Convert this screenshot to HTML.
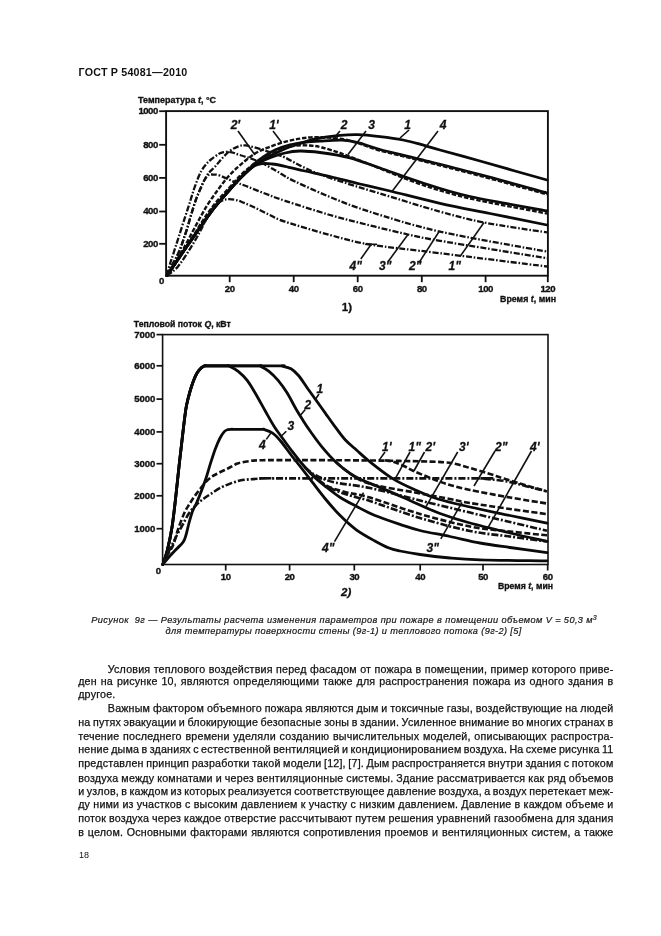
<!DOCTYPE html>
<html lang="ru"><head><meta charset="utf-8"><title>ГОСТ Р 54081—2010</title>
<style>
html,body{margin:0;padding:0;background:#fff;}
body{width:661px;height:936px;position:relative;overflow:hidden;font-family:"Liberation Sans","DejaVu Sans",sans-serif;color:#1a1a1a;}
.hdr{position:absolute;left:78.6px;top:65.8px;font-weight:bold;font-size:10.7px;letter-spacing:0.2px;white-space:nowrap;color:#111;line-height:13px;}
.ln{position:absolute;font-size:10.7px;letter-spacing:0.2px;line-height:12px;height:12px;white-space:pre;color:#111;-webkit-text-stroke:0.25px #111;}
.cap{position:absolute;font-style:italic;font-size:9.2px;white-space:pre;color:#151515;-webkit-text-stroke:0.2px #151515;line-height:11px;}
.pg{position:absolute;left:79px;top:849.5px;font-size:9px;color:#111;line-height:11px;}
svg{position:absolute;left:0;top:0;}
.tk{font-family:"Liberation Sans",sans-serif;font-weight:bold;font-size:9.6px;letter-spacing:-0.5px;fill:#111;stroke:#111;stroke-width:0.35px;}
.tk2{letter-spacing:-0.05px;}
.ttl{font-family:"Liberation Sans",sans-serif;font-weight:bold;font-size:8.4px;fill:#111;stroke:#111;stroke-width:0.3px;}
.ttl2{font-family:"Liberation Sans",sans-serif;font-weight:bold;font-size:8.2px;fill:#111;stroke:#111;stroke-width:0.3px;}
.lab2{font-family:"Liberation Sans",sans-serif;font-weight:bold;font-style:italic;font-size:11.5px;fill:#111;stroke:#111;stroke-width:0.3px;}
.lab1{font-family:"Liberation Sans",sans-serif;font-weight:bold;font-size:11.5px;fill:#111;stroke:#111;stroke-width:0.3px;}
.cl{font-family:"Liberation Sans",sans-serif;font-weight:bold;font-style:italic;font-size:12px;fill:#111;stroke:#111;stroke-width:0.3px;}
</style></head><body>
<div class="hdr">ГОСТ Р 54081—2010</div>
<svg width="661" height="936" viewBox="0 0 661 936">
<rect x="166.1" y="111.1" width="381.8" height="164.6" stroke="#111" fill="none" stroke-width="1.9"/>
<line x1="159.2" y1="111.2" x2="166" y2="111.2" stroke="#111" fill="none" stroke-width="1.8"/>
<text x="157.8" y="114.1" class="tk" text-anchor="end">1000</text>
<line x1="159.2" y1="144.8" x2="166" y2="144.8" stroke="#111" fill="none" stroke-width="1.8"/>
<text x="157.8" y="147.7" class="tk" text-anchor="end">800</text>
<line x1="159.2" y1="177.9" x2="166" y2="177.9" stroke="#111" fill="none" stroke-width="1.8"/>
<text x="157.8" y="180.8" class="tk" text-anchor="end">600</text>
<line x1="159.2" y1="211.5" x2="166" y2="211.5" stroke="#111" fill="none" stroke-width="1.8"/>
<text x="157.8" y="214.4" class="tk" text-anchor="end">400</text>
<line x1="159.2" y1="243.8" x2="166" y2="243.8" stroke="#111" fill="none" stroke-width="1.8"/>
<text x="157.8" y="246.7" class="tk" text-anchor="end">200</text>
<text x="161.5" y="283.6" class="tk" text-anchor="middle">0</text>
<line x1="229.7" y1="275.7" x2="229.7" y2="282.2" stroke="#111" fill="none" stroke-width="1.8"/>
<text x="229.7" y="291.9" class="tk" text-anchor="middle">20</text>
<line x1="293.7" y1="275.7" x2="293.7" y2="282.2" stroke="#111" fill="none" stroke-width="1.8"/>
<text x="293.7" y="291.9" class="tk" text-anchor="middle">40</text>
<line x1="357.7" y1="275.7" x2="357.7" y2="282.2" stroke="#111" fill="none" stroke-width="1.8"/>
<text x="357.7" y="291.9" class="tk" text-anchor="middle">60</text>
<line x1="421.8" y1="275.7" x2="421.8" y2="282.2" stroke="#111" fill="none" stroke-width="1.8"/>
<text x="421.8" y="291.9" class="tk" text-anchor="middle">80</text>
<line x1="485.6" y1="275.7" x2="485.6" y2="282.2" stroke="#111" fill="none" stroke-width="1.8"/>
<text x="485.6" y="291.9" class="tk" text-anchor="middle">100</text>
<line x1="547.8" y1="275.7" x2="547.8" y2="282.2" stroke="#111" fill="none" stroke-width="1.8"/>
<text x="547.8" y="291.9" class="tk" text-anchor="middle">120</text>
<text x="138" y="102.6" class="ttl" textLength="78" lengthAdjust="spacingAndGlyphs">Температура <tspan font-style="italic">t</tspan>, °C</text>
<text x="500" y="301.9" class="ttl2" textLength="56" lengthAdjust="spacingAndGlyphs">Время <tspan font-style="italic">t</tspan>, мин</text>
<text x="341.8" y="311.4" class="lab1">1)</text>
<path d="M167.0,275.6 C169.8,271.4 178.2,258.9 184.0,250.5 C189.8,242.2 196.4,232.7 201.5,225.5 C206.6,218.3 210.4,212.8 214.5,207.5 C218.6,202.2 222.7,197.7 226.3,193.6 C229.9,189.5 232.7,186.1 235.9,182.7 C239.1,179.3 242.2,176.1 245.4,173.1 C248.6,170.1 251.6,167.3 255.0,164.8 C258.4,162.3 262.2,160.1 266.0,158.0 C269.8,155.9 274.0,153.9 278.0,152.0 C282.0,150.1 285.5,148.5 290.0,146.8 C294.5,145.1 300.0,143.3 305.0,141.8 C310.0,140.3 314.2,139.1 320.0,138.0 C325.8,136.9 333.7,135.9 340.0,135.3 C346.3,134.7 351.3,134.4 358.0,134.6 C364.7,134.8 372.5,135.7 380.0,136.6 C387.5,137.5 396.3,138.7 403.0,140.0 C409.7,141.3 413.8,142.5 420.0,144.2 C426.2,145.9 430.0,147.2 440.0,150.0 C450.0,152.8 467.5,157.5 480.0,161.0 C492.5,164.5 503.8,167.8 515.0,171.0 C526.2,174.2 541.7,178.5 547.0,180.0" stroke="#0a0a0a" stroke-width="2.8" fill="none" stroke-linejoin="round" stroke-linecap="round"/>
<path d="M167.0,275.6 C169.8,271.4 178.2,258.9 184.0,250.5 C189.8,242.2 196.4,232.7 201.5,225.5 C206.6,218.3 210.4,212.8 214.5,207.5 C218.6,202.2 222.7,197.7 226.3,193.6 C229.9,189.5 232.7,186.1 235.9,182.7 C239.1,179.3 242.4,176.2 245.4,173.1 C248.4,170.0 250.9,167.0 254.0,164.2 C257.1,161.4 260.5,158.9 264.0,156.5 C267.5,154.1 270.7,151.9 275.0,150.0 C279.3,148.1 285.0,146.1 290.0,144.8 C295.0,143.5 300.0,142.9 305.0,142.3 C310.0,141.7 313.8,141.5 320.0,141.2 C326.2,140.8 335.7,139.9 342.0,140.2 C348.3,140.4 351.7,141.1 358.0,142.7 C364.3,144.2 369.7,146.7 380.0,149.5 C390.3,152.3 403.3,155.1 420.0,159.3 C436.7,163.5 458.8,168.9 480.0,174.5 C501.2,180.1 535.8,189.9 547.0,193.0" stroke="#0a0a0a" stroke-width="2.8" fill="none" stroke-linejoin="round" stroke-linecap="round"/>
<path d="M167.0,275.6 C169.7,271.2 177.7,258.9 183.0,249.5 C188.3,240.2 194.8,227.2 199.1,219.5 C203.4,211.8 205.4,208.1 208.6,203.1 C211.8,198.1 215.0,193.8 218.2,189.5 C221.4,185.2 224.5,180.8 227.7,177.2 C230.9,173.6 234.0,170.6 237.2,167.7 C240.4,164.8 243.6,162.0 246.8,159.5 C250.0,157.0 252.7,154.7 256.3,152.7 C259.9,150.7 263.8,149.1 268.6,147.3 C273.4,145.5 279.8,143.2 285.0,141.8 C290.2,140.4 295.3,139.4 300.0,138.6 C304.7,137.8 308.3,137.4 313.0,137.2 C317.7,137.0 322.7,137.2 328.0,137.6 C333.3,138.0 340.0,138.7 345.0,139.6 C350.0,140.5 352.2,141.4 358.0,143.2 C363.8,145.0 369.7,147.6 380.0,150.5 C390.3,153.4 403.3,156.2 420.0,160.4 C436.7,164.6 458.8,170.1 480.0,175.8 C501.2,181.5 535.8,191.3 547.0,194.4" stroke="#111" stroke-width="2.4" fill="none" stroke-dasharray="4.5 1.8"/>
<path d="M167.0,275.6 C169.8,271.4 178.2,258.9 184.0,250.5 C189.8,242.2 196.4,232.7 201.5,225.5 C206.6,218.3 210.4,212.8 214.5,207.5 C218.6,202.2 222.7,197.7 226.3,193.6 C229.9,189.5 232.7,186.1 235.9,182.7 C239.1,179.3 242.2,176.0 245.4,173.1 C248.6,170.2 251.6,167.5 255.0,165.2 C258.4,162.9 260.8,161.5 265.8,159.5 C270.8,157.5 279.3,154.4 285.0,153.0 C290.7,151.6 294.2,151.1 300.0,151.0 C305.8,150.9 311.7,151.4 320.0,152.5 C328.3,153.6 340.0,155.2 350.0,157.8 C360.0,160.4 368.3,164.0 380.0,168.0 C391.7,172.0 405.3,177.3 420.0,182.0 C434.7,186.7 446.8,191.2 468.0,196.0 C489.2,200.8 533.8,208.5 547.0,211.0" stroke="#0a0a0a" stroke-width="2.8" fill="none" stroke-linejoin="round" stroke-linecap="round"/>
<path d="M167.0,275.6 C169.8,271.5 178.2,259.9 184.0,251.0 C189.8,242.1 196.6,230.2 201.8,222.2 C207.0,214.2 210.9,208.8 215.4,203.1 C219.9,197.4 224.9,192.6 229.0,188.1 C233.1,183.6 236.3,179.5 239.9,175.9 C243.5,172.3 247.4,169.0 250.8,166.3 C254.2,163.6 256.8,161.7 260.3,159.5 C263.8,157.3 267.9,154.9 272.0,153.0 C276.1,151.1 280.8,149.2 285.0,148.0 C289.2,146.8 292.8,145.9 297.0,145.5 C301.2,145.1 305.8,145.2 310.0,145.5 C314.2,145.8 317.0,146.2 322.0,147.5 C327.0,148.8 333.7,150.8 340.0,153.0 C346.3,155.2 353.3,157.9 360.0,160.5 C366.7,163.1 370.0,164.6 380.0,168.5 C390.0,172.4 405.3,179.1 420.0,184.0 C434.7,188.9 446.8,193.1 468.0,198.0 C489.2,202.9 533.8,210.9 547.0,213.5" stroke="#111" stroke-width="2.4" fill="none" stroke-dasharray="4.5 1.8"/>
<path d="M167.0,275.6 C169.8,271.4 178.2,258.9 184.0,250.5 C189.8,242.2 196.4,232.7 201.5,225.5 C206.6,218.3 210.4,212.8 214.5,207.5 C218.6,202.2 222.7,197.7 226.3,193.6 C229.9,189.5 232.7,186.1 235.9,182.7 C239.1,179.3 242.2,175.9 245.4,173.1 C248.6,170.2 252.0,167.2 254.9,165.6 C257.8,164.0 260.1,163.9 263.0,163.6 C265.9,163.3 268.3,163.6 272.0,164.0 C275.7,164.4 279.5,165.1 285.0,166.3 C290.5,167.5 297.5,169.3 305.0,171.0 C312.5,172.7 320.8,174.3 330.0,176.5 C339.2,178.7 350.0,181.6 360.0,184.0 C370.0,186.4 376.7,187.8 390.0,191.0 C403.3,194.2 423.3,199.6 440.0,203.3 C456.7,207.1 472.2,209.9 490.0,213.5 C507.8,217.1 537.5,223.1 547.0,225.0" stroke="#0a0a0a" stroke-width="2.8" fill="none" stroke-linejoin="round" stroke-linecap="round"/>
<path d="M167.0,275.6 C167.7,274.2 169.6,269.8 171.0,267.0 C172.4,264.2 174.0,261.8 175.5,259.0 C177.0,256.2 178.4,253.4 179.8,250.0 C181.2,246.6 182.5,242.3 183.8,238.5 C185.1,234.7 186.4,231.0 187.6,227.0 C188.8,223.0 189.8,219.0 191.2,214.5 C192.6,210.0 194.3,204.3 195.8,200.0 C197.3,195.7 199.0,192.1 200.4,188.8 C201.8,185.5 203.1,182.6 204.5,180.0 C205.9,177.4 206.8,175.4 208.6,173.1 C210.4,170.8 213.1,168.8 215.4,166.3 C217.7,163.8 219.7,160.8 222.2,158.2 C224.7,155.6 227.7,152.5 230.4,150.5 C233.1,148.5 236.1,147.2 238.6,146.3 C241.1,145.5 242.4,145.1 245.4,145.4 C248.4,145.7 252.7,146.9 256.3,147.9 C259.9,148.9 263.8,150.2 267.2,151.3 C270.6,152.4 273.7,153.7 276.7,154.7 C279.7,155.7 280.3,155.3 285.0,157.5 C289.7,159.7 297.5,164.6 305.0,168.0 C312.5,171.4 317.5,173.8 330.0,178.0 C342.5,182.2 361.7,187.9 380.0,193.5 C398.3,199.1 422.7,206.8 440.0,211.6 C457.3,216.4 466.2,219.0 484.0,222.5 C501.8,226.0 536.5,230.8 547.0,232.4" stroke="#111" stroke-width="2.3" fill="none" stroke-dasharray="6 1.8 1.6 1.8"/>
<path d="M167.0,275.6 C167.5,273.7 168.8,267.9 170.0,264.0 C171.2,260.1 172.5,256.5 173.9,252.0 C175.3,247.5 176.8,243.0 178.7,237.0 C180.6,231.0 183.4,222.2 185.4,216.0 C187.4,209.8 189.2,204.5 190.6,200.0 C192.0,195.5 192.8,192.4 194.0,189.0 C195.2,185.6 196.3,182.5 197.5,179.5 C198.7,176.5 200.0,173.4 201.3,171.0 C202.6,168.6 204.0,166.8 205.5,165.0 C207.0,163.2 208.1,161.9 210.4,160.0 C212.7,158.1 216.8,155.0 219.5,153.6 C222.2,152.2 224.6,152.0 226.7,151.8 C228.8,151.6 230.2,151.9 232.0,152.3 C233.8,152.7 235.2,153.5 237.6,154.3 C240.0,155.1 243.1,155.9 246.7,157.2 C250.3,158.4 254.9,159.8 259.4,161.8 C263.9,163.9 269.6,167.1 273.9,169.5 C278.2,171.9 281.5,174.2 285.0,176.2 C288.5,178.2 287.5,178.0 295.0,181.5 C302.5,185.0 317.5,191.9 330.0,197.0 C342.5,202.1 351.7,206.0 370.0,211.8 C388.3,217.6 410.5,225.0 440.0,231.6 C469.5,238.2 529.2,248.3 547.0,251.6" stroke="#111" stroke-width="2.3" fill="none" stroke-dasharray="6 1.8 1.6 1.8"/>
<path d="M167.0,275.6 C167.7,274.2 169.6,269.8 171.0,267.0 C172.4,264.2 174.0,261.8 175.5,259.0 C177.0,256.2 178.4,253.4 179.8,250.0 C181.2,246.6 182.5,242.3 183.8,238.5 C185.1,234.7 186.4,231.0 187.6,227.0 C188.8,223.0 189.8,219.0 191.2,214.5 C192.6,210.0 194.3,204.3 195.8,200.0 C197.3,195.7 199.0,192.1 200.4,188.8 C201.8,185.5 203.1,182.3 204.5,180.0 C205.9,177.7 207.2,175.9 208.6,175.0 C210.0,174.1 211.2,174.5 213.0,174.6 C214.8,174.7 216.0,174.2 219.5,175.4 C223.0,176.6 229.5,179.9 234.0,181.7 C238.5,183.5 241.5,184.3 246.7,186.3 C251.8,188.3 258.5,191.1 264.9,193.5 C271.3,195.9 274.1,197.2 285.0,200.8 C295.9,204.4 315.8,210.9 330.0,215.0 C344.2,219.1 357.0,222.2 370.0,225.4 C383.0,228.7 396.3,231.9 408.0,234.5 C419.7,237.1 416.8,236.9 440.0,240.8 C463.2,244.8 529.2,255.3 547.0,258.2" stroke="#111" stroke-width="2.3" fill="none" stroke-dasharray="6 1.8 1.6 1.8"/>
<path d="M167.0,275.6 C168.8,274.1 173.9,271.3 177.8,266.7 C181.7,262.1 186.8,254.0 190.6,247.9 C194.4,241.8 197.7,235.9 200.9,229.9 C204.1,223.9 207.2,216.5 210.0,212.0 C212.8,207.5 215.7,205.0 218.0,203.0 C220.3,201.0 222.2,200.4 224.0,199.8 C225.8,199.2 227.2,199.2 229.0,199.2 C230.8,199.2 232.9,199.4 235.0,199.8 C237.1,200.2 237.8,200.3 241.3,201.7 C244.8,203.1 251.0,205.8 255.8,208.1 C260.6,210.4 265.4,213.0 270.3,215.3 C275.2,217.6 275.1,218.4 285.0,221.7 C294.9,225.0 315.8,231.2 330.0,235.0 C344.2,238.8 351.7,241.5 370.0,244.5 C388.3,247.5 410.5,249.5 440.0,253.2 C469.5,256.9 529.2,264.3 547.0,266.5" stroke="#111" stroke-width="2.3" fill="none" stroke-dasharray="6 1.8 1.6 1.8"/>
<rect x="162.6" y="334.6" width="385.4" height="229.9" stroke="#111" fill="none" stroke-width="1.6"/>
<line x1="156.5" y1="334.6" x2="162.6" y2="334.6" stroke="#111" fill="none" stroke-width="1.7"/>
<text x="155.3" y="337.9" class="tk tk2" text-anchor="end">7000</text>
<line x1="156.5" y1="365.8" x2="162.6" y2="365.8" stroke="#111" fill="none" stroke-width="1.7"/>
<text x="155.3" y="369.1" class="tk tk2" text-anchor="end">6000</text>
<line x1="156.5" y1="399.1" x2="162.6" y2="399.1" stroke="#111" fill="none" stroke-width="1.7"/>
<text x="155.3" y="402.4" class="tk tk2" text-anchor="end">5000</text>
<line x1="156.5" y1="431.9" x2="162.6" y2="431.9" stroke="#111" fill="none" stroke-width="1.7"/>
<text x="155.3" y="435.2" class="tk tk2" text-anchor="end">4000</text>
<line x1="156.5" y1="463.7" x2="162.6" y2="463.7" stroke="#111" fill="none" stroke-width="1.7"/>
<text x="155.3" y="467.0" class="tk tk2" text-anchor="end">3000</text>
<line x1="156.5" y1="495.8" x2="162.6" y2="495.8" stroke="#111" fill="none" stroke-width="1.7"/>
<text x="155.3" y="499.1" class="tk tk2" text-anchor="end">2000</text>
<line x1="156.5" y1="528.7" x2="162.6" y2="528.7" stroke="#111" fill="none" stroke-width="1.7"/>
<text x="155.3" y="532.0" class="tk tk2" text-anchor="end">1000</text>
<text x="158.2" y="573.6" class="tk" text-anchor="middle">0</text>
<line x1="225.7" y1="564.5" x2="225.7" y2="570.5" stroke="#111" fill="none" stroke-width="1.7"/>
<text x="225.7" y="580.2" class="tk" text-anchor="middle">10</text>
<line x1="289.6" y1="564.5" x2="289.6" y2="570.5" stroke="#111" fill="none" stroke-width="1.7"/>
<text x="289.6" y="580.2" class="tk" text-anchor="middle">20</text>
<line x1="354.3" y1="564.5" x2="354.3" y2="570.5" stroke="#111" fill="none" stroke-width="1.7"/>
<text x="354.3" y="580.2" class="tk" text-anchor="middle">30</text>
<line x1="420.2" y1="564.5" x2="420.2" y2="570.5" stroke="#111" fill="none" stroke-width="1.7"/>
<text x="420.2" y="580.2" class="tk" text-anchor="middle">40</text>
<line x1="483" y1="564.5" x2="483" y2="570.5" stroke="#111" fill="none" stroke-width="1.7"/>
<text x="483" y="580.2" class="tk" text-anchor="middle">50</text>
<line x1="547.7" y1="564.5" x2="547.7" y2="570.5" stroke="#111" fill="none" stroke-width="1.7"/>
<text x="547.7" y="580.2" class="tk" text-anchor="middle">60</text>
<text x="133.8" y="327.3" class="ttl" textLength="97" lengthAdjust="spacingAndGlyphs">Тепловой поток <tspan font-style="italic">Q</tspan>, кВт</text>
<text x="498" y="589" class="ttl2" textLength="55" lengthAdjust="spacingAndGlyphs">Время <tspan font-style="italic">t</tspan>, мин</text>
<text x="341" y="596.4" class="lab2">2)</text>
<path d="M162.8,564.5 C163.6,562.0 166.0,555.9 167.5,549.7 C169.0,543.5 170.6,535.9 172.0,527.2 C173.4,518.5 174.5,508.0 175.7,497.3 C176.9,486.6 178.2,474.1 179.4,462.9 C180.7,451.7 182.1,439.1 183.2,430.0 C184.3,420.9 185.1,413.7 186.0,408.3 C186.9,402.9 187.5,401.0 188.4,397.4 C189.3,393.8 190.4,389.9 191.5,386.5 C192.6,383.1 193.9,379.4 195.1,376.8 C196.3,374.2 197.3,372.5 198.7,370.7 C200.1,368.9 202.0,367.0 203.6,366.2 C205.2,365.4 206.3,365.9 208.0,365.9 C209.7,365.8 212.7,365.9 214.0,365.9 C215.3,365.9 213.8,365.9 216.0,365.9 C218.2,365.9 224.8,365.9 227.0,365.9 C229.2,365.9 227.1,365.0 229.0,365.9 C230.9,366.8 235.2,368.9 238.2,371.3 C241.2,373.7 244.2,376.4 247.2,380.4 C250.2,384.3 253.3,389.9 256.3,395.0 C259.3,400.1 262.4,406.0 265.4,411.3 C268.4,416.6 271.7,422.6 274.5,427.0 C277.3,431.4 279.2,433.6 282.0,437.5 C284.8,441.4 288.2,446.2 291.5,450.5 C294.8,454.8 298.3,459.4 301.8,463.5 C305.3,467.6 308.8,471.6 312.7,475.4 C316.6,479.2 320.9,482.7 325.4,486.3 C329.9,489.9 334.8,493.9 339.9,497.2 C345.0,500.5 350.6,503.3 356.3,506.3 C362.1,509.3 367.1,512.3 374.4,515.3 C381.7,518.3 392.4,521.9 400.0,524.4 C407.6,526.9 411.7,528.5 420.0,530.5 C428.3,532.5 440.0,534.4 450.0,536.5 C460.0,538.6 470.0,541.2 480.0,543.0 C490.0,544.8 498.8,545.9 510.0,547.5 C521.2,549.1 540.8,551.8 547.0,552.7" stroke="#0a0a0a" stroke-width="2.8" fill="none" stroke-linejoin="round" stroke-linecap="round"/>
<path d="M162.8,564.5 C163.6,562.0 166.0,555.9 167.5,549.7 C169.0,543.5 170.6,535.9 172.0,527.2 C173.4,518.5 174.5,508.0 175.7,497.3 C176.9,486.6 178.2,474.1 179.4,462.9 C180.7,451.7 182.1,439.1 183.2,430.0 C184.3,420.9 185.1,413.7 186.0,408.3 C186.9,402.9 187.5,401.0 188.4,397.4 C189.3,393.8 190.4,389.9 191.5,386.5 C192.6,383.1 193.9,379.4 195.1,376.8 C196.3,374.2 197.3,372.5 198.7,370.7 C200.1,368.9 202.0,367.0 203.6,366.2 C205.2,365.4 206.3,365.9 208.0,365.9 C209.7,365.8 212.7,365.9 214.0,365.9 C215.3,365.9 208.7,365.9 216.0,365.9 C223.3,365.9 250.7,365.9 258.0,365.9 C265.3,365.9 258.2,365.0 260.0,365.9 C261.8,366.8 266.0,368.9 269.0,371.3 C272.0,373.7 275.1,376.8 278.1,380.4 C281.1,384.0 284.2,388.2 287.2,393.1 C290.2,398.0 293.6,404.8 296.3,409.5 C299.0,414.2 301.1,417.4 303.5,421.2 C305.9,424.9 307.8,427.8 310.8,432.0 C313.8,436.2 317.4,441.5 321.7,446.6 C325.9,451.7 331.4,457.9 336.3,462.5 C341.2,467.1 346.4,471.0 350.8,474.0 C355.2,477.0 358.1,478.3 363.0,480.5 C367.9,482.7 372.2,484.1 380.0,487.4 C387.8,490.7 400.0,496.1 410.0,500.5 C420.0,504.9 430.0,509.8 440.0,513.5 C450.0,517.2 458.3,519.8 470.0,523.0 C481.7,526.2 497.2,529.9 510.0,533.0 C522.8,536.1 540.8,540.0 547.0,541.4" stroke="#0a0a0a" stroke-width="2.8" fill="none" stroke-linejoin="round" stroke-linecap="round"/>
<path d="M162.8,564.5 C163.6,562.0 166.0,555.9 167.5,549.7 C169.0,543.5 170.6,535.9 172.0,527.2 C173.4,518.5 174.5,508.0 175.7,497.3 C176.9,486.6 178.2,474.1 179.4,462.9 C180.7,451.7 182.1,439.1 183.2,430.0 C184.3,420.9 185.1,413.7 186.0,408.3 C186.9,402.9 187.5,401.0 188.4,397.4 C189.3,393.8 190.4,389.9 191.5,386.5 C192.6,383.1 193.9,379.4 195.1,376.8 C196.3,374.2 197.3,372.5 198.7,370.7 C200.1,368.9 202.0,367.0 203.6,366.2 C205.2,365.4 206.3,365.9 208.0,365.9 C209.7,365.8 212.7,365.9 214.0,365.9 C215.3,365.9 205.1,365.9 216.0,365.9 C226.9,365.9 268.6,365.9 279.5,365.9 C290.4,365.9 279.6,365.4 281.5,365.9 C283.4,366.4 288.2,367.2 291.0,368.8 C293.8,370.4 295.8,372.4 298.5,375.5 C301.2,378.6 304.2,383.6 307.1,387.7 C310.1,391.8 313.2,396.2 316.2,400.4 C319.2,404.6 322.3,408.9 325.3,413.1 C328.3,417.3 331.0,421.3 334.4,425.8 C337.8,430.3 341.6,435.9 345.4,440.0 C349.2,444.1 353.1,447.0 357.0,450.5 C360.9,454.0 363.1,456.3 369.0,461.0 C374.9,465.7 385.0,473.8 392.7,478.6 C400.4,483.4 407.8,486.6 415.4,490.0 C422.9,493.4 428.9,496.2 438.0,499.0 C447.1,501.8 458.0,504.2 470.0,507.0 C482.0,509.8 497.2,512.8 510.0,515.5 C522.8,518.2 540.8,521.9 547.0,523.2" stroke="#0a0a0a" stroke-width="2.8" fill="none" stroke-linejoin="round" stroke-linecap="round"/>
<path d="M162.8,564.5 C163.8,563.2 166.8,559.5 169.0,557.0 C171.2,554.5 173.7,552.0 176.0,549.5 C178.3,547.0 181.3,544.7 183.0,542.3 C184.7,539.9 185.0,538.2 186.0,535.0 C187.0,531.8 187.9,527.0 189.0,523.0 C190.1,519.0 191.5,514.0 192.7,510.8 C193.9,507.6 194.9,506.8 196.3,503.6 C197.7,500.4 199.6,495.7 201.2,491.5 C202.8,487.3 204.4,483.1 206.0,478.2 C207.6,473.3 209.2,467.3 210.8,462.4 C212.4,457.5 213.8,453.0 215.3,449.0 C216.8,445.0 218.3,441.4 219.8,438.5 C221.3,435.6 222.9,433.1 224.3,431.6 C225.7,430.1 226.7,430.0 228.0,429.6 C229.3,429.2 231.0,429.4 232.0,429.3 C233.0,429.2 229.1,429.3 234.0,429.3 C238.9,429.3 256.7,429.3 261.6,429.3 C266.5,429.3 261.8,428.7 263.6,429.3 C265.4,429.9 269.7,431.1 272.6,433.1 C275.5,435.1 277.9,437.8 281.0,441.5 C284.1,445.2 288.0,451.0 291.5,455.5 C295.0,460.0 298.3,464.0 301.8,468.5 C305.3,473.0 308.8,477.6 312.7,482.7 C316.6,487.8 320.9,493.6 325.4,499.0 C329.9,504.4 334.8,510.2 339.9,515.3 C345.0,520.4 350.6,525.6 356.3,529.8 C362.1,534.0 368.9,537.7 374.4,540.7 C379.8,543.7 384.7,546.3 389.0,548.0 C393.3,549.7 394.8,549.9 400.0,551.0 C405.2,552.1 411.7,553.3 420.0,554.5 C428.3,555.7 440.0,557.1 450.0,558.0 C460.0,558.9 463.8,559.3 480.0,559.8 C496.2,560.3 535.8,560.6 547.0,560.8" stroke="#0a0a0a" stroke-width="2.8" fill="none" stroke-linejoin="round" stroke-linecap="round"/>
<path d="M162.8,564.5 C163.7,562.8 166.2,557.3 168.0,554.0 C169.8,550.7 171.6,548.9 173.3,544.7 C175.0,540.5 176.4,534.2 178.2,529.0 C180.0,523.8 182.4,517.3 184.2,513.3 C186.0,509.3 187.0,508.0 189.0,504.8 C191.0,501.6 193.1,498.1 196.3,493.9 C199.5,489.7 204.8,482.8 208.4,479.4 C212.0,476.0 214.8,475.1 218.0,473.3 C221.2,471.5 224.6,470.1 227.8,468.5 C231.1,466.9 233.8,464.9 237.5,463.6 C241.2,462.4 246.2,461.6 250.0,461.0 C253.8,460.4 256.3,460.4 260.0,460.3 C263.7,460.2 265.3,460.1 272.0,460.1 C278.7,460.1 290.3,460.1 300.0,460.1 C309.7,460.1 320.0,460.1 330.0,460.2 C340.0,460.2 348.3,460.3 360.0,460.4 C371.7,460.5 388.3,460.7 400.0,460.9 C411.7,461.1 422.5,461.4 430.0,461.6 C437.5,461.8 440.7,461.9 445.0,462.3 C449.3,462.7 451.8,463.1 456.0,464.0 C460.2,464.9 464.3,466.3 470.0,468.0 C475.7,469.7 483.3,471.9 490.0,474.0 C496.7,476.1 500.5,477.6 510.0,480.5 C519.5,483.4 540.8,489.6 547.0,491.4" stroke="#111" stroke-width="2.6" fill="none" stroke-dasharray="6 2.5"/>
<path d="M162.8,564.5 C163.4,563.1 165.2,558.9 166.5,556.0 C167.8,553.1 169.2,550.7 170.9,547.2 C172.7,543.7 175.0,538.8 177.0,535.0 C179.0,531.2 181.0,527.8 183.0,524.2 C185.0,520.6 186.8,516.5 189.0,513.3 C191.2,510.1 193.9,507.2 196.3,504.8 C198.7,502.4 201.2,500.5 203.6,498.7 C206.0,496.9 208.0,495.7 210.8,493.9 C213.6,492.1 217.3,489.5 220.5,487.8 C223.7,486.1 226.9,484.8 230.2,483.6 C233.4,482.4 236.7,481.3 240.0,480.6 C243.3,479.9 246.7,479.6 250.0,479.3 C253.3,479.0 256.3,478.8 260.0,478.6 C263.7,478.4 269.7,478.3 272.0,478.3 C274.3,478.3 239.7,478.4 274.0,478.4 C308.3,478.4 443.7,478.4 478.0,478.4 C512.3,478.4 477.7,478.2 480.0,478.4 C482.3,478.6 487.8,479.1 492.0,479.5 C496.2,479.9 500.3,480.2 505.0,481.0 C509.7,481.8 515.0,483.2 520.0,484.5 C525.0,485.8 530.5,487.4 535.0,488.5 C539.5,489.6 545.0,490.9 547.0,491.4" stroke="#111" stroke-width="2.6" fill="none" stroke-dasharray="7 2 2 2"/>
<path d="M385.0,460.3 C386.5,460.6 390.7,461.0 394.0,462.0 C397.3,463.0 401.4,464.9 405.0,466.5 C408.6,468.1 409.9,469.4 415.4,471.8 C420.9,474.2 432.2,478.8 438.0,481.0 C443.8,483.2 444.7,483.5 450.0,485.0 C455.3,486.5 460.0,487.9 470.0,490.0 C480.0,492.1 497.2,495.2 510.0,497.5 C522.8,499.8 540.8,502.5 547.0,503.5" stroke="#111" stroke-width="2.6" fill="none" stroke-dasharray="6 2.5"/>
<path d="M336.3,462.5 C338.7,464.4 345.2,470.4 350.8,474.0 C356.4,477.6 359.3,480.8 370.0,483.9 C380.7,487.0 401.7,490.0 415.0,492.5 C428.3,495.0 440.8,497.2 450.0,499.0 C459.2,500.8 460.0,501.3 470.0,503.0 C480.0,504.7 497.2,507.1 510.0,509.0 C522.8,510.9 540.8,513.2 547.0,514.1" stroke="#111" stroke-width="2.6" fill="none" stroke-dasharray="6 2.5"/>
<path d="M305.0,467.5 C305.8,468.2 307.8,470.0 310.0,471.5 C312.2,473.0 313.8,474.7 318.0,476.5 C322.2,478.3 326.3,480.6 335.0,482.5 C343.7,484.4 355.8,485.0 370.0,488.0 C384.2,491.0 403.3,496.4 420.0,500.5 C436.7,504.6 455.0,509.0 470.0,512.6 C485.0,516.2 497.2,519.0 510.0,522.0 C522.8,525.0 540.8,529.3 547.0,530.8" stroke="#111" stroke-width="2.6" fill="none" stroke-dasharray="7 2 2 2"/>
<path d="M307.0,469.5 C307.8,470.2 309.0,471.4 312.0,474.0 C315.0,476.6 319.5,482.0 325.0,485.0 C330.5,488.0 337.5,489.9 345.0,492.0 C352.5,494.1 357.5,493.8 370.0,497.5 C382.5,501.2 403.3,509.2 420.0,514.0 C436.7,518.8 455.0,523.6 470.0,526.5 C485.0,529.4 497.2,530.0 510.0,531.5 C522.8,533.0 540.8,534.7 547.0,535.3" stroke="#111" stroke-width="2.6" fill="none" stroke-dasharray="6 2.5"/>
<path d="M309.0,471.5 C309.8,472.2 310.5,473.2 314.0,476.0 C317.5,478.8 324.0,484.8 330.0,488.0 C336.0,491.2 343.3,493.3 350.0,495.5 C356.7,497.7 358.3,497.2 370.0,501.0 C381.7,504.8 403.3,513.0 420.0,518.0 C436.7,523.0 455.0,527.9 470.0,531.0 C485.0,534.1 497.2,534.8 510.0,536.5 C522.8,538.2 540.8,540.6 547.0,541.4" stroke="#111" stroke-width="2.6" fill="none" stroke-dasharray="7 2 2 2"/>
<text x="230.7" y="128.5" class="cl">2'</text>
<path d="M238.0,131.0 L255.0,155.0" stroke="#111" stroke-width="1.6" fill="none"/>
<text x="269.2" y="128.5" class="cl">1'</text>
<path d="M273.0,131.0 L281.7,142.4" stroke="#111" stroke-width="1.6" fill="none"/>
<text x="340.7" y="128.5" class="cl">2</text>
<path d="M340.0,131.0 L332.6,139.5" stroke="#111" stroke-width="1.6" fill="none"/>
<text x="368.2" y="128.5" class="cl">3</text>
<path d="M366.0,131.0 L348.0,154.5" stroke="#111" stroke-width="1.6" fill="none"/>
<text x="404.2" y="128.5" class="cl">1</text>
<path d="M409.0,130.0 L400.0,138.0" stroke="#111" stroke-width="1.6" fill="none"/>
<text x="439.7" y="128.5" class="cl">4</text>
<path d="M438.0,131.0 L391.8,191.7" stroke="#111" stroke-width="1.6" fill="none"/>
<text x="349.5" y="270" class="cl">4"</text>
<path d="M360.8,259.0 L370.7,245.0" stroke="#111" stroke-width="1.6" fill="none"/>
<text x="379.0" y="270" class="cl">3"</text>
<path d="M388.0,261.7 L408.0,234.5" stroke="#111" stroke-width="1.6" fill="none"/>
<text x="409.0" y="270" class="cl">2"</text>
<path d="M419.0,262.6 L439.0,231.8" stroke="#111" stroke-width="1.6" fill="none"/>
<text x="448.5" y="270" class="cl">1"</text>
<path d="M460.0,256.6 L484.0,222.5" stroke="#111" stroke-width="1.6" fill="none"/>
<path d="M365,244.3 L377,244.3" stroke="#111" stroke-width="1.6"/>
<text x="316.5" y="392.5" class="cl">1</text>
<path d="M319.0,394.0 L315.3,399.5" stroke="#111" stroke-width="1.6" fill="none"/>
<text x="304.5" y="409" class="cl">2</text>
<path d="M305.3,409.5 L300.0,415.8" stroke="#111" stroke-width="1.6" fill="none"/>
<text x="287.5" y="429.8" class="cl">3</text>
<path d="M286.3,431.3 L281.7,435.8" stroke="#111" stroke-width="1.6" fill="none"/>
<text x="259" y="449" class="cl">4</text>
<path d="M266.3,439.4 L270.8,433.1" stroke="#111" stroke-width="1.6" fill="none"/>
<text x="382" y="450.5" class="cl">1'</text>
<path d="M385.0,452.0 L379.0,460.4" stroke="#111" stroke-width="1.6" fill="none"/>
<text x="408.5" y="450.5" class="cl">1"</text>
<path d="M410.0,452.0 L395.7,477.8" stroke="#111" stroke-width="1.6" fill="none"/>
<text x="425.5" y="450.5" class="cl">2'</text>
<path d="M424.5,452.0 L413.9,471.0" stroke="#111" stroke-width="1.6" fill="none"/>
<text x="459" y="450.5" class="cl">3'</text>
<path d="M457.7,452.0 L426.0,506.6" stroke="#111" stroke-width="1.6" fill="none"/>
<text x="495" y="450.5" class="cl">2"</text>
<path d="M495.0,451.0 L474.0,486.0" stroke="#111" stroke-width="1.6" fill="none"/>
<text x="530" y="450.5" class="cl">4'</text>
<path d="M531.5,451.0 L487.7,528.2" stroke="#111" stroke-width="1.6" fill="none"/>
<text x="426.5" y="551.5" class="cl">3"</text>
<path d="M440.8,538.8 L462.0,502.5" stroke="#111" stroke-width="1.6" fill="none"/>
<text x="322" y="551.5" class="cl">4"</text>
<path d="M334.5,541.7 L363.5,492.6" stroke="#111" stroke-width="1.6" fill="none"/>
</svg>
<div class="cap" style="left:91.3px;top:614.5px;letter-spacing:0.4px">Рисунок  9г — Результаты расчета изменения параметров при пожаре в помещении объемом <span style="font-style:italic">V</span> = 50,3 м<sup style="font-size:6.5px;vertical-align:3px;line-height:0">3</sup></div>
<div class="cap" style="left:165.6px;top:626.4px;letter-spacing:0.37px">для температуры поверхности стены (9г-1) и теплового потока (9г-2) [5]</div>
<div class="ln" style="top:663.1px;left:107.8px;word-spacing:0.12px">Условия теплового воздействия перед фасадом от пожара в помещении, пример которого приве-</div>
<div class="ln" style="top:675.1px;left:78.2px;word-spacing:0.73px">ден на рисунке 10, являются определяющими также для распространения пожара из одного здания в</div>
<div class="ln" style="top:688.3px;left:78.2px;word-spacing:0.00px">другое.</div>
<div class="ln" style="top:702.2px;left:107.8px;word-spacing:-0.35px">Важным фактором объемного пожара являются дым и токсичные газы, воздействующие на людей</div>
<div class="ln" style="top:715.8px;left:78.2px;word-spacing:-0.69px">на путях эвакуации и блокирующие безопасные зоны в здании. Усиленное внимание во многих странах в</div>
<div class="ln" style="top:729.8px;left:78.2px;word-spacing:0.58px">течение последнего времени уделяли созданию вычислительных моделей, описывающих распростра-</div>
<div class="ln" style="top:743.4px;left:78.2px;word-spacing:-0.86px">нение дыма в зданиях с естественной вентиляцией и кондиционированием воздуха. На схеме рисунка 11</div>
<div class="ln" style="top:757.1px;left:78.2px;word-spacing:-0.61px">представлен принцип разработки такой модели [12], [7]. Дым распространяется внутри здания с потоком</div>
<div class="ln" style="top:771.7px;left:78.2px;word-spacing:-0.21px">воздуха между комнатами и через вентиляционные системы. Здание рассматривается как ряд объемов</div>
<div class="ln" style="top:785.1px;left:78.2px;word-spacing:-0.84px">и узлов, в каждом из которых реализуется соответствующее давление воздуха, а воздух перетекает меж-</div>
<div class="ln" style="top:798.3px;left:78.2px;word-spacing:-0.06px">ду ними из участков с высоким давлением к участку с низким давлением. Давление в каждом объеме и</div>
<div class="ln" style="top:811.7px;left:78.2px;word-spacing:-0.26px">поток воздуха через каждое отверстие рассчитывают путем решения уравнений газообмена для здания</div>
<div class="ln" style="top:825.8px;left:78.2px;word-spacing:0.46px">в целом. Основными факторами являются сопротивления проемов и вентиляционных систем, а также</div>
<div class="pg">18</div>
</body></html>
